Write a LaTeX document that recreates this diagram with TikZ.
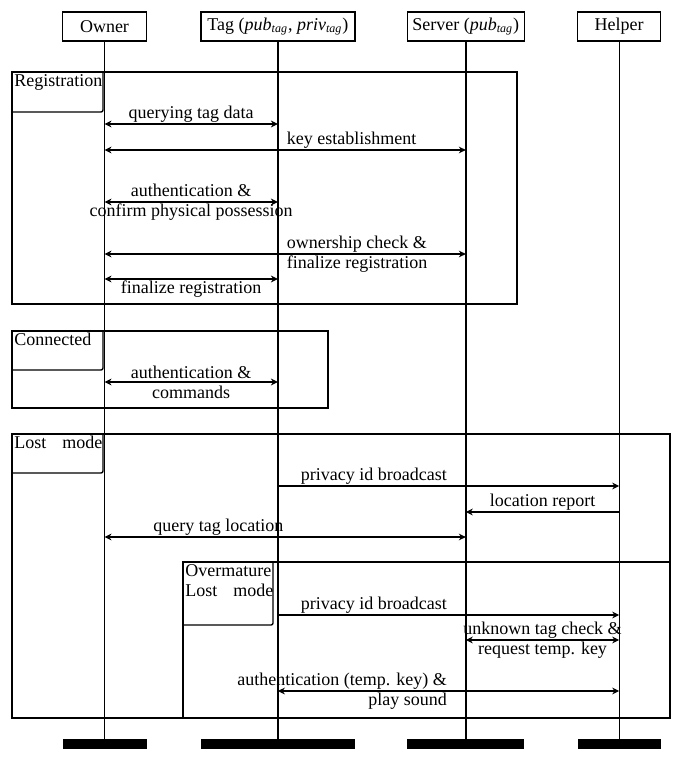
\documentclass[tikz,border=0pt]{standalone}
\usepackage{fontspec}
\setmainfont{Liberation Serif}
\usetikzlibrary{positioning, arrows.meta}

\begin{document}
\begin{tikzpicture}[x=0.5pt, y=-0.5pt, >={Stealth[length=3.5pt, width=3.4pt]},
        every node/.style={font=\fontsize{9}{10}\selectfont},
        actor/.style={draw, line width=0.7pt, minimum width=#1, minimum height=14.5pt, inner sep=1pt},
        endbar/.style={fill=black, minimum width=#1, minimum height=5pt, inner sep=0pt},
        lifeline/.style={line width=0.7pt},
        frame/.style={line width=0.7pt},
        msg/.style={line width=0.7pt, nodes={inner sep=0.5pt}},
        framelabel/.style={anchor=north west, inner sep=1pt, align=left}]
        \useasboundingbox (0,0) rectangle (690,759);

        % Teilnehmer
        \node[actor=42pt] (owner) at (104.5,26.5) {Owner};
        \node[actor=77pt, right=26.5pt of owner] (tag) {Tag (\textit{pub}\textsubscript{\textit{tag}}, \textit{priv}\textsubscript{\textit{tag}})};
        \node[actor=58.5pt, right=25.5pt of tag] (server) {Server (\textit{pub}\textsubscript{\textit{tag}})};
        \node[actor=41.5pt, right=26pt of server] (helper) {Helper};

        % Lebenslinien
        \node[endbar=42pt, below=348.5pt of owner] (ownerend) {};
        \node[endbar=77pt, below=348.5pt of tag] (tagend) {};
        \node[endbar=58.5pt, below=348.5pt of server] (serverend) {};
        \node[endbar=41.5pt, below=348.5pt of helper] (helperend) {};
        \draw[lifeline] (owner) -- (ownerend);
        \draw[lifeline] (tag) -- (tagend);
        \draw[lifeline] (server) -- (serverend);
        \draw[lifeline] (helper) -- (helperend);

        % Registration
        \draw[frame] (12,72) rectangle (517,304);
        \draw[frame, rounded corners=1pt] (12,112) -- (103,112) -- (103,72);
        \node[framelabel] (reglabel) at (12,72) {Registration};

        \coordinate (m1) at (0,124);
        \coordinate (m2) at (0,150);
        \coordinate (m3) at (0,202);
        \coordinate (m4) at (0,254);
        \coordinate (m5) at (0,279);
        \draw[msg, <->] (owner |- m1) -- node[above] (t1) {querying tag data} (tag |- m1);
        \draw[msg, <->] (owner |- m2) -- node[above right] (t2) {key establishment} (server |- m2);
        \draw[msg, <->] (owner |- m3) -- node[align=center] (t3) {authentication \&\\confirm physical possession} (tag |- m3);
        \draw[msg, <->] (owner |- m4) -- node[right, align=left] (t4) {ownership check \&\\finalize registration} (server |- m4);
        \draw[msg, <->] (owner |- m5) -- node[below] (t5) {finalize registration} (tag |- m5);

        % Connected
        \draw[frame] (12,331) rectangle (328,408);
        \draw[frame, rounded corners=1pt] (12,370) -- (103,370) -- (103,331);
        \node[framelabel] (conlabel) at (12,331) {Connected};

        \coordinate (m6) at (0,382);
        \draw[msg, <->] (owner |- m6) -- node[align=center] (t6) {authentication \&\\commands} (tag |- m6);

        % Lost mode
        \draw[frame] (12,434) rectangle (670,718);
        \draw[frame, rounded corners=1pt] (12,473) -- (103,473) -- (103,434);
        \node[framelabel] (lostlabel) at (12,434) {\makebox[44pt][l]{Lost\hfill mode}};

        \coordinate (m7) at (0,486);
        \coordinate (m8) at (0,512);
        \coordinate (m9) at (0,537);
        \draw[msg, ->] (tag |- m7) -- node[above left] (t7) {privacy id broadcast} (helper |- m7);
        \draw[msg, ->] (helper |- m8) -- node[above] (t8) {location report} (server |- m8);
        \draw[msg, <->] (owner |- m9) -- node[above left] (t9) {query tag location} (server |- m9);

        % Overmature Lost mode
        \draw[frame] (183,562) rectangle (670,718);
        \draw[frame, rounded corners=1pt] (183,625) -- (273,625) -- (273,562);
        \node[framelabel] (overlabel) at (183,562) {Overmature\\\makebox[44pt][l]{Lost\hfill mode}};

        \coordinate (m10) at (0,615);
        \coordinate (m11) at (0,640);
        \coordinate (m12) at (0,691);
        \draw[msg, ->] (tag |- m10) -- node[above left] (t10) {privacy id broadcast} (helper |- m10);
        \draw[msg, <->] (server |- m11) -- node[align=center] (t11) {unknown tag check \&\\request temp. key} (helper |- m11);
        \draw[msg, <->] (tag |- m12) -- node[left, align=right] (t12) {authentication (temp. key) \&\\play sound} (helper |- m12);

    \end{tikzpicture}
\end{document}
